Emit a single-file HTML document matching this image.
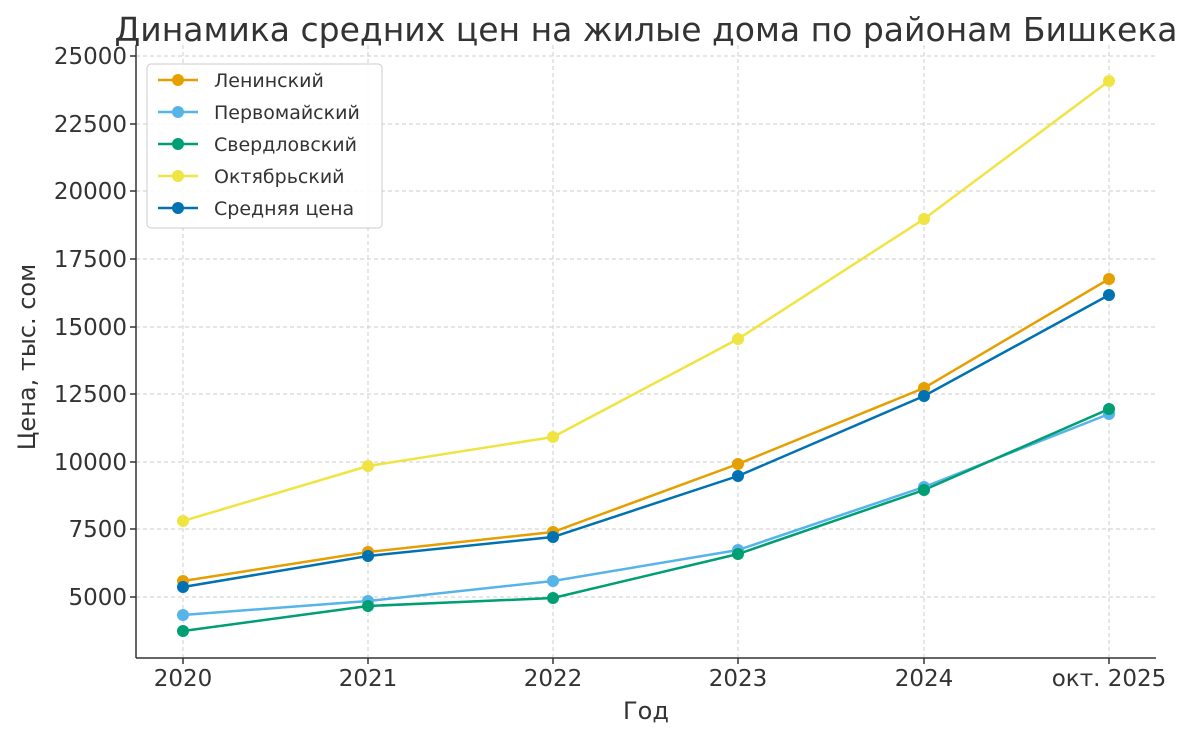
<!DOCTYPE html>
<html><head><meta charset="utf-8"><style>
html,body{margin:0;padding:0;background:#fff;}
svg text{font-family:"DejaVu Sans","Liberation Sans",sans-serif;fill:#333;}
</style></head><body>
<svg width="1200" height="739" viewBox="0 0 1200 739" xmlns="http://www.w3.org/2000/svg">
<rect width="1200" height="739" fill="#fff"/>
<text x="646" y="41" font-size="33" text-anchor="middle">Динамика средних цен на жилые дома по районам Бишкека</text>
<g stroke="#ccc" stroke-width="1" stroke-dasharray="4,3">
<line x1="136" x2="1156" y1="56" y2="56"/><line x1="136" x2="1156" y1="124" y2="124"/>
<line x1="136" x2="1156" y1="191" y2="191"/><line x1="136" x2="1156" y1="259" y2="259"/>
<line x1="136" x2="1156" y1="327" y2="327"/><line x1="136" x2="1156" y1="394" y2="394"/>
<line x1="136" x2="1156" y1="462" y2="462"/><line x1="136" x2="1156" y1="529" y2="529"/>
<line x1="136" x2="1156" y1="597" y2="597"/>
<line x1="183" x2="183" y1="45" y2="658"/><line x1="368" x2="368" y1="45" y2="658"/>
<line x1="553" x2="553" y1="45" y2="658"/><line x1="738" x2="738" y1="45" y2="658"/>
<line x1="924" x2="924" y1="45" y2="658"/><line x1="1109" x2="1109" y1="45" y2="658"/>
</g>
<g stroke="#333" stroke-width="1.5">
<line x1="136" x2="136" y1="45" y2="658"/><line x1="136" x2="1156" y1="658" y2="658"/>
<line x1="130" x2="136" y1="56" y2="56"/><line x1="130" x2="136" y1="124" y2="124"/><line x1="130" x2="136" y1="191" y2="191"/><line x1="130" x2="136" y1="259" y2="259"/><line x1="130" x2="136" y1="327" y2="327"/><line x1="130" x2="136" y1="394" y2="394"/><line x1="130" x2="136" y1="462" y2="462"/><line x1="130" x2="136" y1="529" y2="529"/><line x1="130" x2="136" y1="597" y2="597"/>
<line x1="183" x2="183" y1="658" y2="664"/><line x1="368" x2="368" y1="658" y2="664"/><line x1="553" x2="553" y1="658" y2="664"/><line x1="738" x2="738" y1="658" y2="664"/><line x1="924" x2="924" y1="658" y2="664"/><line x1="1109" x2="1109" y1="658" y2="664"/>
</g>
<g font-size="23" text-anchor="end">
<text x="127" y="64">25000</text><text x="127" y="132">22500</text><text x="127" y="199">20000</text><text x="127" y="267">17500</text><text x="127" y="335">15000</text><text x="127" y="402">12500</text><text x="127" y="470">10000</text><text x="127" y="537">7500</text><text x="127" y="605">5000</text>
</g>
<g font-size="23" text-anchor="middle">
<text x="183" y="686">2020</text><text x="368" y="686">2021</text><text x="553" y="686">2022</text><text x="738" y="686">2023</text><text x="924" y="686">2024</text><text x="1109" y="686">окт. 2025</text>
<text x="646" y="719" font-size="24">Год</text>
<text transform="translate(35,357) rotate(-90)" font-size="24">Цена, тыс. сом</text>
</g>
<g fill="none" stroke-width="2.5">
<polyline stroke="#F0E442" points="183,521 368,466 553,437 738,339 924,219 1109,81"/>
<polyline stroke="#E69F00" points="183,581 368,552 553,532 738,464 924,388 1109,279"/>
<polyline stroke="#0072B2" points="183,587 368,556 553,537 738,476 924,396 1109,295"/>
<polyline stroke="#56B4E9" points="183,615 368,601 553,581 738,550 924,487 1109,414"/>
<polyline stroke="#009E73" points="183,631 368,606 553,598 738,554 924,490 1109,409"/>
</g>
<g fill="#F0E442"><circle cx="183" cy="521" r="6"/><circle cx="368" cy="466" r="6"/><circle cx="553" cy="437" r="6"/><circle cx="738" cy="339" r="6"/><circle cx="924" cy="219" r="6"/><circle cx="1109" cy="81" r="6"/></g>
<g fill="#E69F00"><circle cx="183" cy="581" r="6"/><circle cx="368" cy="552" r="6"/><circle cx="553" cy="532" r="6"/><circle cx="738" cy="464" r="6"/><circle cx="924" cy="388" r="6"/><circle cx="1109" cy="279" r="6"/></g>
<g fill="#0072B2"><circle cx="183" cy="587" r="6"/><circle cx="368" cy="556" r="6"/><circle cx="553" cy="537" r="6"/><circle cx="738" cy="476" r="6"/><circle cx="924" cy="396" r="6"/><circle cx="1109" cy="295" r="6"/></g>
<g fill="#56B4E9"><circle cx="183" cy="615" r="6"/><circle cx="368" cy="601" r="6"/><circle cx="553" cy="581" r="6"/><circle cx="738" cy="550" r="6"/><circle cx="924" cy="487" r="6"/><circle cx="1109" cy="414" r="6"/></g>
<g fill="#009E73"><circle cx="183" cy="631" r="6"/><circle cx="368" cy="606" r="6"/><circle cx="553" cy="598" r="6"/><circle cx="738" cy="554" r="6"/><circle cx="924" cy="490" r="6"/><circle cx="1109" cy="409" r="6"/></g>
<rect x="147" y="64" width="235" height="164" rx="4" fill="#fff" fill-opacity="0.9" stroke="#ccc"/>
<g stroke-width="2.5">
<line x1="158" x2="198" y1="80" y2="80" stroke="#E69F00"/><circle cx="178" cy="80" r="6" fill="#E69F00"/>
<line x1="158" x2="198" y1="112" y2="112" stroke="#56B4E9"/><circle cx="178" cy="112" r="6" fill="#56B4E9"/>
<line x1="158" x2="198" y1="144" y2="144" stroke="#009E73"/><circle cx="178" cy="144" r="6" fill="#009E73"/>
<line x1="158" x2="198" y1="176" y2="176" stroke="#F0E442"/><circle cx="178" cy="176" r="6" fill="#F0E442"/>
<line x1="158" x2="198" y1="208" y2="208" stroke="#0072B2"/><circle cx="178" cy="208" r="6" fill="#0072B2"/>
</g>
<g font-size="19">
<text x="214" y="87">Ленинский</text><text x="214" y="119">Первомайский</text><text x="214" y="151">Свердловский</text><text x="214" y="183">Октябрьский</text><text x="214" y="215">Средняя цена</text>
</g>
</svg>
</body></html>
